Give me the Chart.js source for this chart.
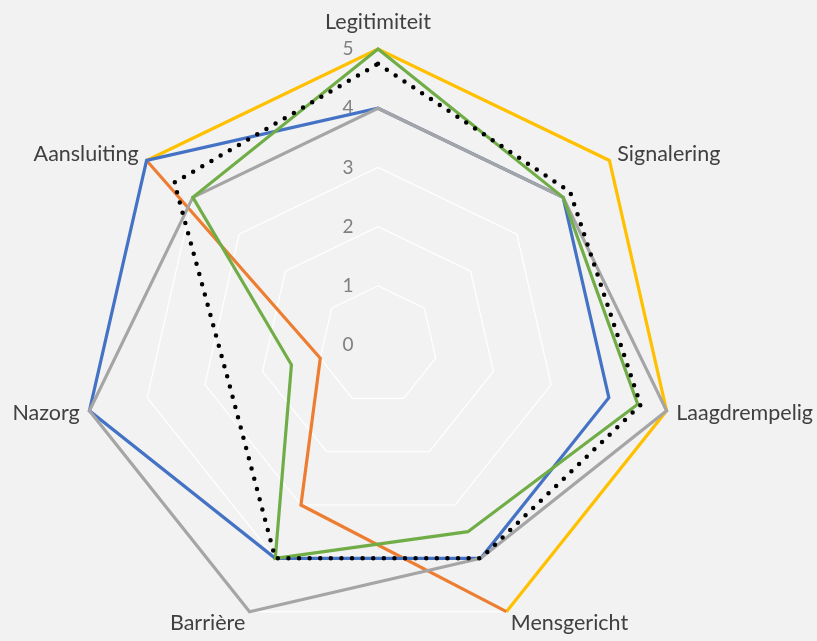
<!DOCTYPE html>
<html>
<head>
<meta charset="utf-8">
<script src="https://cdn.jsdelivr.net/npm/chart.js@4.4.0/dist/chart.umd.min.js"></script>
<style>
    html, body { margin: 0; padding: 0; background: #f2f2f2; }
    #wrap { width: 817px; height: 641px; }
</style>
</head>
<body>
<div id="wrap"><canvas id="radar-chartcanvas"></canvas></div>
<script>
// categories
var labels = ["Legitimiteit", "Signalering", "Laagdrempelig", "Mensgericht", "Barrière", "Nazorg", "Aansluiting"];
var tickValues = [0, 1, 2, 3, 4, 5];

// series values (null = empty cell, line breaks there)
var blueValues   = [4, 4, 4, 4, 4, 5, 5];
var orangeValues = [null, null, null, 5, 3, 1, 5];
var greyValues   = [4, 4, 5, 4, 5, 5, 4];
var yellowValues = [5, 5, 5, 5, null, null, 5];
var greenValues  = [5, 4, 4.5, 3.5, 4, 1.5, 4];
var dottedValues = [4.75, 4.15, 4.55, 4, 4, 2.6, 4.4];

var FONT = "Lato, 'Noto Sans', sans-serif";

//tick labels 0..5 sit left of the vertical axis, under the lines
//category labels are drawn here too so their spacing can match
var labelsPlugin = {
    id: "radarLabels",
    beforeDatasetsDraw: function(chart) {
        var scale = chart.scales.r;
        var ctx = chart.ctx;
        ctx.save();
        ctx.font = "19px " + FONT;
        ctx.fillStyle = "#7f7f7f";
        ctx.textAlign = "center";
        ctx.textBaseline = "middle";
        tickValues.forEach(function(v) {
            var d = scale.getDistanceFromCenterForValue(v);
            ctx.fillText(String(v), scale.xCenter - 30, scale.yCenter - d);
        });

        ctx.font = "21.5px " + FONT;
        ctx.fillStyle = "#404040";
        labels.forEach(function(text, i) {
            var p = scale.getPointPosition(i, scale.drawingArea + 10);
            var deg = Math.round(i * 360 / labels.length);
            var y = p.y;
            if (deg === 0) {
                ctx.textAlign = "center";
                ctx.textBaseline = "alphabetic";
                y = p.y - 10;
            } else {
                ctx.textAlign = deg < 180 ? "left" : "right";
                if (deg > 120 && deg < 240) {
                    ctx.textBaseline = "top";
                    y = p.y - 8;
                } else {
                    ctx.textBaseline = "middle";
                }
            }
            ctx.fillText(text, p.x, y);
        });
        ctx.restore();
    }
};

function line(label, values, color, order) {
    return {
        label: label,
        data: values,
        borderColor: color,
        backgroundColor: color,
        borderWidth: 3.2,
        fill: false,
        pointRadius: 0,
        pointHoverRadius: 0,
        spanGaps: false,
        order: order
    };
}

var ctx = document.getElementById("radar-chartcanvas");

var dotted = line("Gemiddelde", dottedValues, "#000000", 0);
dotted.borderWidth = 4.5;
dotted.borderDash = [0, 10.6];
dotted.borderCapStyle = "round";

var data = {
    labels: labels,
    datasets: [
        dotted,
        line("Reeks5", greenValues, "#70ad47", 1),
        line("Reeks3", greyValues, "#a5a5a5", 2),
        line("Reeks1", blueValues, "#4472c4", 3),
        line("Reeks2", orangeValues, "#ed7d31", 4),
        line("Reeks4", yellowValues, "#ffc000", 5)
    ]
};

var options = {
    responsive: true,
    maintainAspectRatio: false,
    animation: false,
    layout: { padding: { top: 49, bottom: 0, left: 82, right: 143 } },
    plugins: {
        legend: { display: false },
        tooltip: { enabled: false }
    },
    scales: {
        r: {
            min: 0,
            max: 5,
            ticks: { display: false, stepSize: 1 },
            angleLines: { display: false },
            grid: { color: "#ffffff", lineWidth: 1.2 },
            pointLabels: { display: false }
        }
    }
};

new Chart(ctx, {
    type: "radar",
    data: data,
    options: options,
    plugins: [labelsPlugin]
});
</script>
</body>
</html>
